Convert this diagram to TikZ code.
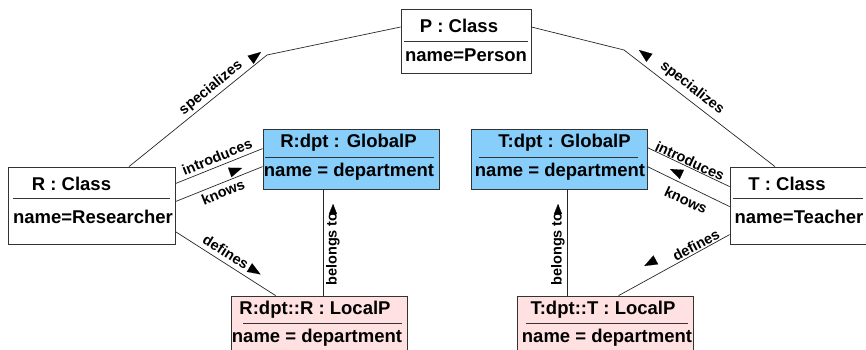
\documentclass[tikz,border=0pt]{standalone}
\usepackage{fontspec}
\setmainfont{Liberation Sans}
\usetikzlibrary{calc,arrows.meta}

\definecolor{globalblue}{RGB}{135,206,250}
\definecolor{localpink}{RGB}{255,225,225}

\tikzset{
  objbox/.style={draw=black!80, line width=0.8pt, inner sep=0pt},
  boxtext/.style={font=\fontsize{18.5}{20}\selectfont\bfseries, inner sep=0pt},
  sepline/.style={draw=black!80, line width=0.8pt},
  rel/.style={draw=black!85, line width=0.7pt},
  rellabel/.style={font=\fontsize{14.5}{16}\selectfont\bfseries, inner sep=0pt},
  readmark/.style={line width=0.1pt, -{Triangle[length=13pt,width=10pt]}},
  smallmark/.style={line width=0.1pt, -{Triangle[length=10pt,width=8pt]}}
}

\begin{document}
\begin{tikzpicture}[x=1pt,y=1pt,yscale=-1]
\useasboundingbox (0,0) rectangle (866,350);
\clip (0,0) rectangle (866,350);

%Object boxes
\node [objbox, fill=white, minimum width=130pt, minimum height=64pt] (pBox) at (466,41) {};
\node [objbox, fill=white, minimum width=167pt, minimum height=77pt] (rBox) at (91.5,205.5) {};
\node [objbox, fill=white, minimum width=140pt, minimum height=77pt] (tBox) at (800,205.5) {};
\node [objbox, fill=globalblue, minimum width=176pt, minimum height=60pt] (rGlob) at (351,159) {};
\node [objbox, fill=globalblue, minimum width=176pt, minimum height=60pt] (tGlob) at (559,159) {};
\node [objbox, fill=localpink, minimum width=176pt, minimum height=60pt] (rLoc) at (319,326) {};
\node [objbox, fill=localpink, minimum width=176pt, minimum height=60pt] (tLoc) at (605,326) {};

% Text Node
\node [boxtext] (pTitle) at (459,26) {P : Class};
\node [boxtext] (pAttr) at (466,55) {name=Person};
\draw [sepline] (404,41) -- (528,41);
% Text Node
\node [boxtext] (rTitle) at (71.5,183.5) {R : Class};
\node [boxtext] (rAttr) at (93,216.5) {name=Researcher};
\draw [sepline] (13,198) -- (170,198);
% Text Node
\node [boxtext] (tTitle) at (787,183.5) {T : Class};
\node [boxtext] (tAttr) at (799,216.5) {name=Teacher};
\draw [sepline] (733,198) -- (863,198);
% Text Node
\node [boxtext] (rGlobTitle) at (348.5,142.5) {R:dpt : GlobalP};
\node [boxtext] (rGlobAttr) at (349,171.5) {name = department};
\draw [sepline] (265,157) -- (434,157);
% Text Node
\node [boxtext] (tGlobTitle) at (564.5,142.5) {T:dpt : GlobalP};
\node [boxtext] (tGlobAttr) at (560,171.5) {name = department};
\draw [sepline] (479,157) -- (638,157);
% Text Node
\node [boxtext] (rLocTitle) at (315,309.5) {R:dpt::R : LocalP};
\node [boxtext] (rLocAttr) at (317,337.5) {name = department};
\draw [sepline] (243,323) -- (402,323);
% Text Node
\node [boxtext] (tLocTitle) at (603,309.5) {T:dpt::T : LocalP};
\node [boxtext] (tLocAttr) at (607,337.5) {name = department};
\draw [sepline] (526,323) -- (688,323);

%Bends of the specializes links
\coordinate (specL) at (267,55);
\coordinate (specR) at (624,50);
\coordinate (belR) at ($(rLoc.north)+(4,0)$);
\coordinate (belT) at ($(tGlob.south)+(8,0)$);

%Links
\draw [rel] ($(rBox.north)+(37.5,0)$) -- (specL) -- ($(pBox.west)+(0,-14)$);
\draw [rel] ($(pBox.east)+(0,-14)$) -- (specR) -- ($(tBox.north)+(-25,0)$);
\draw [rel] ($(rBox.north east)+(0,17)$) -- ($(rGlob.north west)+(0,20)$);
\draw [rel] ($(rBox.north east)+(0,35)$) -- ($(rGlob.north west)+(0,38)$);
\draw [rel] ($(rBox.north east)+(0,65)$) -- ($(rLoc.north west)+(45,0)$);
\draw [rel] ($(tGlob.north east)+(0,19)$) -- ($(tBox.north west)+(0,20)$);
\draw [rel] ($(tGlob.north east)+(0,38)$) -- ($(tBox.north west)+(0,40)$);
\draw [rel] ($(tBox.north west)+(0,68)$) -- ($(tLoc.north west)+(102,0)$);
\draw [rel] (belR) -- (belR |- rGlob.south);
\draw [rel] (belT) -- (belT |- tLoc.north);

% Text Node
\node [rellabel, rotate=39] (specLLbl) at (211,88) {specializes};
\node [rellabel, rotate=-38] (specRLbl) at (692,88) {specializes};
\node [rellabel, rotate=22] (introLLbl) at (217,157) {introduces};
\node [rellabel, rotate=22] (knowsLLbl) at (223,192) {knows};
\node [rellabel, rotate=-25] (introRLbl) at (690,161) {introduces};
\node [rellabel, rotate=-25] (knowsRLbl) at (686,200) {knows};
\node [rellabel, rotate=-32] (defLLbl) at (226,252) {defines};
\node [rellabel, rotate=28] (defRLbl) at (696,245) {defines};
\node [rellabel, rotate=90] (belLLbl) at (333,249) {belongs to};
\node [rellabel, rotate=90] (belRLbl) at (558,249) {belongs to};

%Reading direction marks
\draw [readmark] (260.2,52.6) -- (261,52);
\draw [readmark] (639.8,50.6) -- (639,50);
\draw [readmark] (241.06,168.34) -- (242,168);
\draw [readmark] (670.91,169.42) -- (670,169);
\draw [readmark] (259.65,273.87) -- (260.5,274.4);
\draw [readmark] (645.18,265.53) -- (644.3,266);
\draw [smallmark] (333,205) -- (333,204);
\draw [smallmark] (558,205) -- (558,204);

\end{tikzpicture}
\end{document}
